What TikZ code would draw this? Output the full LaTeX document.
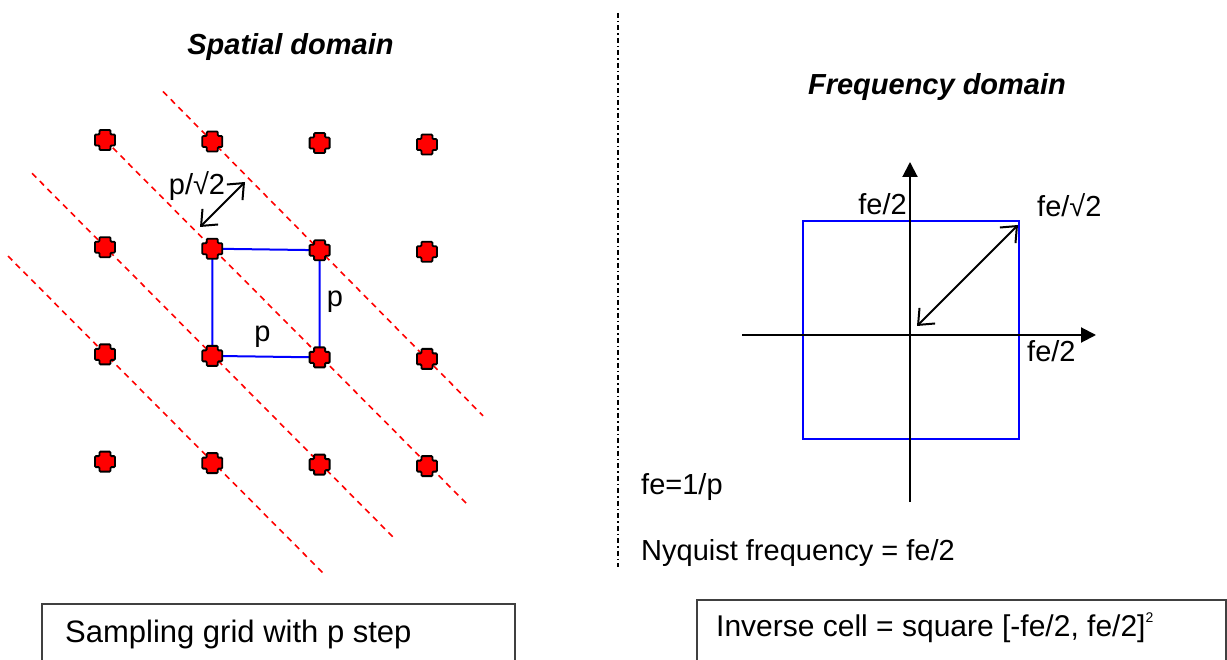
\documentclass[tikz,border=0pt]{standalone}
\usepackage{fontspec}
\setmainfont{Liberation Sans}
\usetikzlibrary{arrows.meta}

\begin{document}
\begin{tikzpicture}[
    x=1pt, y=-1pt,
    font=\fontsize{29}{34}\selectfont,
    retta/.style={red, line width=1.6pt, dash pattern=on 6pt off 5pt},
    cella/.style={blue, line width=2pt},
    asse/.style={line width=2pt, -{Triangle[length=15pt,width=15pt]}},
    freccia/.style={line width=2pt,
      {Straight Barb[length=13pt,width=22pt]}-{Straight Barb[length=13pt,width=22pt]}},
    riquadro/.style={draw=black!75, line width=1.5pt},
    titolo/.style={font=\fontsize{29}{34}\selectfont\bfseries\itshape},
    etichetta/.style={inner sep=0pt},
    punto/.pic={\draw[fill=red, line width=1.8pt, rounded corners=1pt]
      (-5.5,-10) -- (5.5,-10) -- (5.5,-5.5) -- (10,-5.5) -- (10,5.5) -- (5.5,5.5) -- (5.5,10)
      -- (-5.5,10) -- (-5.5,5.5) -- (-10,5.5) -- (-10,-5.5) -- (-5.5,-5.5) -- cycle;},
  ]

  \useasboundingbox (0,0) rectangle (1227,660);

  % --- dominio spaziale: la griglia di passo p --------------------------
  \foreach \i in {0,...,3}{%
    \foreach \j in {0,...,3}{%
      \coordinate (g-\i-\j) at ({105+107.3*\i},{140+107.2*\j+1.5*\i});
    }
  }

  % --- le rette diagonali -----------------------------------------------
  \draw[retta] (163,91.5) -- (483,415.8);
  \draw[retta] (g-0-0) -- (468,505);
  \draw[retta] (32,173.3) -- (395,539);
  \draw[retta] (8,256.1) -- (325,575);

  % --- la cella elementare ----------------------------------------------
  \draw[cella] (g-1-1) -- (g-2-1) -- (g-2-2) -- (g-1-2) -- cycle;

  \foreach \i in {0,...,3}{%
    \foreach \j in {0,...,3}{%
      \pic at (g-\i-\j) {punto};
    }
  }

  \node[etichetta, anchor=base] (lato-v) at (335,307) {p};
  \node[etichetta, anchor=base] (lato-h) at (262.5,342) {p};

  % --- distanza fra le rette --------------------------------------------
  \coordinate (d-a) at (200,227);
  \coordinate (d-b) at (245,182);
  \draw[freccia] (d-a) -- (d-b);
  \node[etichetta, anchor=base] (dist) at (197,195) {p/√2};

  \node[titolo, anchor=base] (tit-s) at (290.5,55) {Spatial domain};

  \draw[riquadro] (42,604) rectangle (515,665);
  \node[etichetta, anchor=base west, font=\fontsize{31}{36}\selectfont]
    (nota-s) at (65,642) {Sampling grid with p step};

  % --- separatore ---------------------------------------------------------
  \draw[line width=2pt, dash pattern=on 5pt off 3pt on 1.5pt off 3pt]
    (618,13) -- (618,567);

  % --- dominio delle frequenze --------------------------------------------
  \node[titolo, anchor=base] (tit-f) at (937,95) {Frequency domain};

  \coordinate (c-a) at (803,221);
  \coordinate (c-b) at (1019,439);
  \draw[cella, line width=1.6pt] (c-a) rectangle (c-b);

  \coordinate (o-sx) at (742,335);
  \coordinate (o-dx) at (1096,335);
  \coordinate (o-su) at (910,162);
  \coordinate (o-giu) at (910,502);
  \draw[asse] (o-sx) -- (o-dx);
  \draw[asse] (o-giu) -- (o-su);

  \coordinate (r-a) at (917,326);
  \coordinate (r-b) at (1018,225);
  \draw[freccia] (r-a) -- (r-b);

  \node[etichetta, anchor=base east] (fe-su) at (907,215) {fe/2};
  \node[etichetta, anchor=base west] (fe-diag) at (1037,217) {fe/√2};
  \node[etichetta, anchor=base west] (fe-dx) at (1027,362) {fe/2};

  \node[etichetta, anchor=base west] (fe-def) at (641,494) {fe=1/p};
  \node[etichetta, anchor=base west] (nyq) at (641,560) {Nyquist frequency = fe/2};

  \draw[riquadro] (697,600) rectangle (1226,665);
  \node[etichetta, anchor=base west, font=\fontsize{30}{35}\selectfont]
    (nota-f) at (716,636)
    {Inverse cell = square [-fe/2, fe/2]\raisebox{14pt}{\fontsize{14}{14}\selectfont 2}};

\end{tikzpicture}
\end{document}
